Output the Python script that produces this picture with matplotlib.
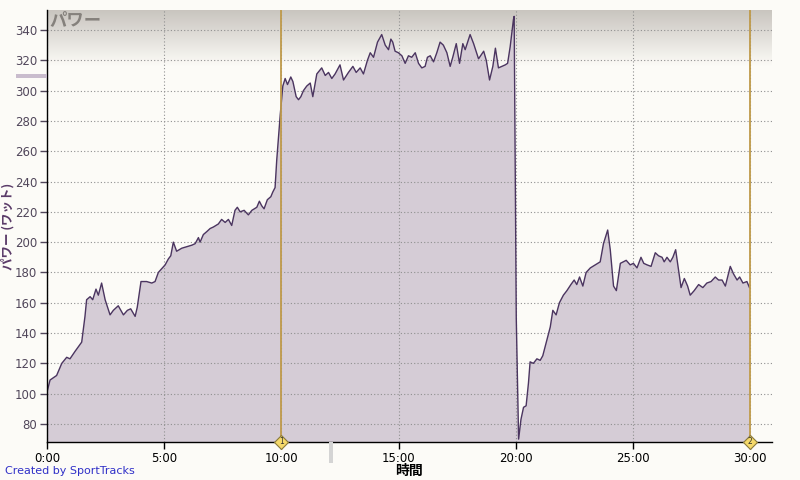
import matplotlib
matplotlib.use("Agg")
import matplotlib.pyplot as plt
import numpy as np
from matplotlib.patches import Rectangle
from matplotlib.ticker import FixedLocator, FuncFormatter

plt.rcParams['font.family'] = ['DejaVu Sans', 'Noto Sans CJK JP']

# time in minutes, power in watts
time_min = [0.0, 0.13, 0.41, 0.63, 0.84, 0.98, 1.2, 1.34, 1.48, 1.62, 1.69, 1.84, 1.95, 2.09, 2.19,
            2.33, 2.48, 2.69, 2.83, 3.04, 3.26, 3.43, 3.57, 3.76, 3.85, 4.01, 4.25, 4.47, 4.61, 4.75,
            5.04, 5.18, 5.28, 5.39, 5.53, 5.75, 5.96, 6.18, 6.32, 6.46, 6.53, 6.67, 6.82, 6.96, 7.1,
            7.31, 7.45, 7.6, 7.74, 7.88, 8.02, 8.12, 8.24, 8.41, 8.59, 8.74, 8.95, 9.06, 9.16, 9.26,
            9.4, 9.55, 9.63, 9.73, 9.8, 9.95, 10.06, 10.16, 10.26, 10.4, 10.49, 10.63, 10.73, 10.83,
            10.94, 11.08, 11.23, 11.34, 11.44, 11.51, 11.72, 11.87, 12.01, 12.15, 12.29, 12.5, 12.65,
            12.86, 13.05, 13.19, 13.36, 13.5, 13.67, 13.79, 13.93, 14.1, 14.28, 14.43, 14.57, 14.67,
            14.75, 14.85, 14.99, 15.14, 15.28, 15.42, 15.56, 15.71, 15.85, 15.99, 16.13, 16.23, 16.35,
            16.49, 16.63, 16.77, 16.91, 17.06, 17.2, 17.31, 17.46, 17.6, 17.74, 17.84, 18.05, 18.2,
            18.41, 18.63, 18.74, 18.88, 19.02, 19.13, 19.26, 19.41, 19.55, 19.65, 19.76, 19.9, 19.93,
            20.02, 20.12, 20.22, 20.33, 20.44, 20.54, 20.61, 20.75, 20.9, 21.04, 21.15, 21.32, 21.47,
            21.58, 21.72, 21.86, 22.03, 22.18, 22.35, 22.49, 22.6, 22.72, 22.86, 23.0, 23.18, 23.39,
            23.6, 23.74, 23.92, 24.03, 24.17, 24.29, 24.46, 24.71, 24.88, 25.02, 25.17, 25.34, 25.46,
            25.6, 25.77, 25.95, 26.09, 26.24, 26.33, 26.45, 26.59, 26.7, 26.82, 26.92, 27.05, 27.19,
            27.33, 27.44, 27.61, 27.8, 27.98, 28.15, 28.33, 28.51, 28.65, 28.8, 28.94, 29.15, 29.29,
            29.44, 29.55, 29.69, 29.86, 29.97]
power_w = [101, 109, 112, 120, 124, 123, 128, 131, 134, 151, 162, 164, 162, 169, 165,
           173, 162, 152, 155, 158, 152, 155, 156, 151, 157, 174, 174, 173, 174, 180,
           185, 189, 191, 200, 194, 196, 197, 198, 199, 203, 200, 205, 207, 209, 210,
           212, 215, 213, 215, 211, 221, 223, 220, 221, 218, 221, 223, 227, 224, 222,
           228, 230, 233, 236, 254, 284, 303, 308, 304, 309, 306, 296, 294, 296,
           300, 303, 305, 296, 305, 311, 315, 310, 312, 308, 311, 317, 307,
           312, 316, 312, 315, 311, 320, 325, 322, 332, 337, 330, 327, 334,
           332, 326, 325, 323, 318, 323, 322, 325, 318, 315, 316, 322, 323,
           319, 325, 332, 330, 325, 316, 322, 331, 318, 331, 327, 337, 331,
           321, 326, 320, 307, 316, 328, 315, 316, 317, 318, 329, 347, 349,
           150, 70, 83, 91, 92, 107, 121, 120, 123, 122, 125, 135, 144,
           155, 152, 160, 165, 168, 172, 175, 172, 177, 171, 180, 183, 185,
           187, 199, 208, 195, 171, 168, 186, 188, 185, 186, 183, 190, 186,
           185, 184, 193, 191, 190, 187, 190, 187, 190, 195, 184, 170, 176,
           171, 165, 168, 172, 170, 173, 174, 177, 175, 175, 171, 184, 179,
           175, 177, 173, 174, 170]

y_ticks = [80, 100, 120, 140, 160, 180, 200, 220, 240, 260, 280, 300, 320, 340]
x_ticks = [0, 5, 10, 15, 20, 25, 30]
lap_times = [10, 30]
lap_labels = ['1', '2']

BG = '#fcfbf7'
FILL = '#d5ccd6'
LINE = '#4b3560'
LAP = '#bf9a4a'

fig = plt.figure(figsize=(8, 4.8), dpi=100, facecolor=BG)
ax = fig.add_axes([47/800, 38/480, 725/800, 432/480])
ax.set_facecolor(BG)
ax.set_xlim(0, 30.93)
ax.set_ylim(68.1, 353.2)

# header gradient
grad = np.linspace(0, 1, 100).reshape(-1, 1)
top = np.array([200, 196, 190]) / 255.0
bot = np.array([252, 251, 247]) / 255.0
img = top[None, None, :] * (1 - grad[:, :, None]) + bot[None, None, :] * grad[:, :, None]
ax.imshow(img, extent=[0, 1, 0.87, 1.0], transform=ax.transAxes, aspect='auto', zorder=0)

ax.fill_between(time_min, power_w, 0, color=FILL, lw=0, zorder=2)
ax.plot(time_min, power_w, color=LINE, lw=1.0, zorder=3)

ax.xaxis.set_major_locator(FixedLocator(x_ticks))
ax.yaxis.set_major_locator(FixedLocator(y_ticks))
ax.xaxis.set_major_formatter(FuncFormatter(lambda v, p: f"{int(v)}:00"))
ax.grid(True, color='#909090', linestyle=(0, (1, 2)), lw=0.8, zorder=4)
ax.set_axisbelow(False)

for s in ['top', 'right']:
    ax.spines[s].set_visible(False)
for s in ['left', 'bottom']:
    ax.spines[s].set_color('black')
    ax.spines[s].set_linewidth(1.0)
    ax.spines[s].set_zorder(6)

ax.tick_params(axis='y', colors='#50465a', labelsize=8.5, length=5, width=1, direction='out', pad=2)
ax.tick_params(axis='x', colors='black', labelsize=8.5, length=5, width=1, direction='out', pad=2)

for t, l in zip(lap_times, lap_labels):
    ax.axvline(t, color=LAP, lw=1.3, zorder=5)
    ax.plot([t], [68.1], marker='D', ms=7, mfc='#f5d96a', mec='#8a7a3a', mew=0.8,
            clip_on=False, zorder=7)
    ax.text(t, 68.1, l, ha='center', va='center', fontsize=5.5, color='#333', zorder=8,
            clip_on=False)

ax.text(0.004, 0.998, 'パワー', transform=ax.transAxes, ha='left', va='top',
        fontsize=12.5, style='italic', fontweight='bold', color='#85817c',
        family=['Noto Sans CJK JP'], zorder=6)

fig.text(8/800, 1 - 226/480, 'パワー (ワット)', family=['Noto Sans CJK JP'], fontsize=9,
         fontweight='bold', color='#5a3a68', rotation=90, ha='center', va='center')
fig.text(409/800, 1 - 471/480, '時間', family=['Noto Sans CJK JP'], fontsize=10,
         fontweight='bold', color='black', ha='center', va='center')

fig.text(5/800, 1 - 471/480, 'Created by SportTracks', fontsize=8, color='#3030c8',
         ha='left', va='center')

fig.patches.append(Rectangle((16/800, 1 - 78/480), 31/800, 4/480, transform=fig.transFigure,
                             color='#c9bccd', lw=0))
fig.patches.append(Rectangle((329/800, 1 - 463/480), 4/800, 21/480, transform=fig.transFigure,
                             color='#d4d4d4', lw=0))

fig.savefig('out.png', dpi=100, facecolor=BG)
